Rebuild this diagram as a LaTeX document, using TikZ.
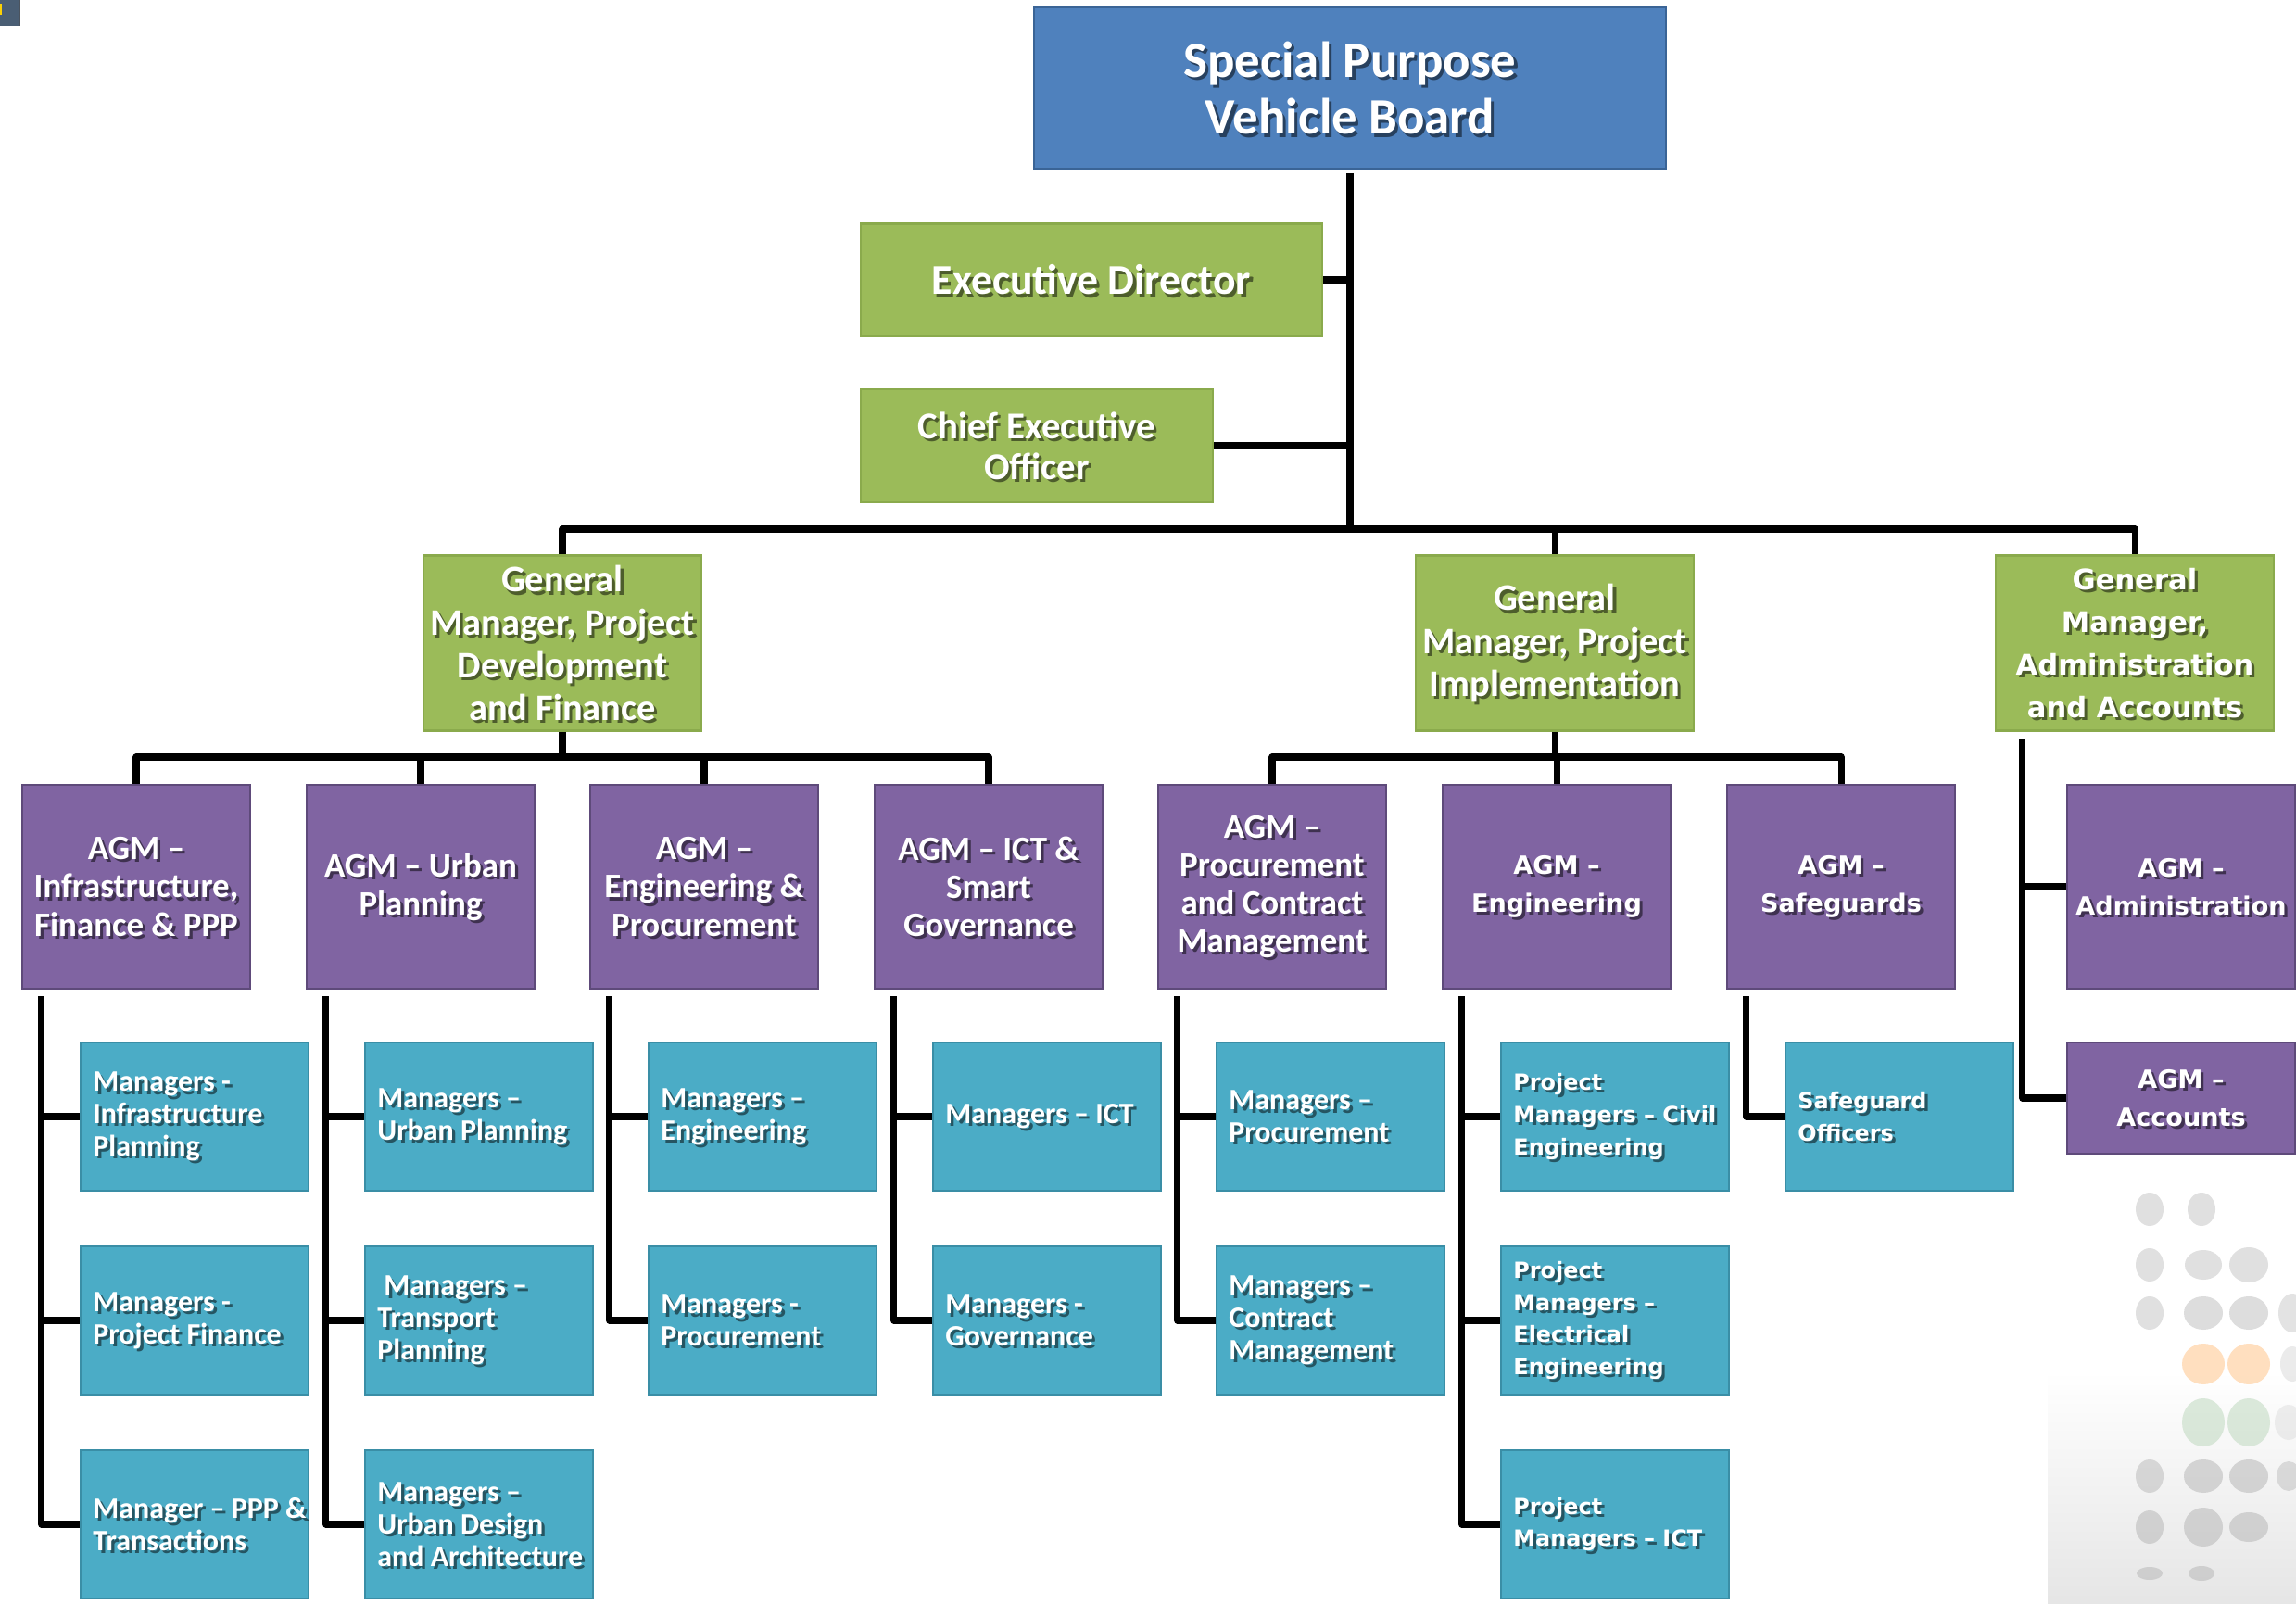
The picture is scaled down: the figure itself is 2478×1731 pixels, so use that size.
\documentclass[tikz,border=0pt]{standalone}
\usepackage{fontspec}
\setmainfont{Carlito}
\newfontfamily\dvs{DejaVu Sans}
\usetikzlibrary{fadings}

\definecolor{boardfill}{HTML}{4F81BD}
\definecolor{boardline}{HTML}{3A6496}
\definecolor{gmfill}{HTML}{9BBB59}
\definecolor{gmline}{HTML}{8AAA4C}
\definecolor{agmfill}{HTML}{8064A2}
\definecolor{agmline}{HTML}{5E4A7A}
\definecolor{mgrfill}{HTML}{4BACC6}
\definecolor{mgrline}{HTML}{3A8EA6}
\definecolor{cornerblue}{HTML}{4A5E74}

% font sizes
\newcommand\fTop{\fontsize{15.6}{17.6}\selectfont\bfseries}
\newcommand\fED{\fontsize{13}{15}\selectfont\bfseries}
\newcommand\fCEO{\fontsize{11.6}{12.6}\selectfont\bfseries}
\newcommand\fGM{\fontsize{11.5}{13.1}\selectfont\bfseries}
\newcommand\fGMd{\dvs\bfseries\fontsize{8.7}{13.1}\selectfont}
\newcommand\fAGM{\fontsize{10.5}{11.7}\selectfont\bfseries}
\newcommand\fAGMd{\dvs\bfseries\fontsize{7.7}{11.7}\selectfont}
\newcommand\fMGR{\fontsize{9.1}{9.9}\selectfont\bfseries}
\newcommand\fMGRd{\dvs\bfseries\fontsize{6.8}{9.9}\selectfont}

\tikzset{
  box/.style={rectangle, inner sep=0pt, line width=0.7pt},
  board/.style={box, fill=boardfill, draw=boardline, minimum width=6.82cm, minimum height=1.74cm},
  gm/.style={box, fill=gmfill, draw=gmline, minimum width=3.0cm, minimum height=1.89cm},
  agm/.style={box, fill=agmfill, draw=agmline, minimum width=2.46cm, minimum height=2.2cm},
  mgr/.style={box, fill=mgrfill, draw=mgrline, minimum width=2.46cm, minimum height=1.6cm},
  txtc/.style={inner sep=0pt, align=center, text=white},
  txtl/.style={inner sep=0pt, align=left, text=white, anchor=west},
  shadowtxt/.style={text=black, text opacity=0.5, xshift=0.9pt, yshift=-0.9pt},
  conn/.style={line width=2pt, draw=black, line join=round},
}

% centred box: style, name, centre, font, text
\newcommand\cbox[5]{%
  \node[#1] (#2) at (#3) {};
  \node[txtc, font={#4}, shadowtxt] (#2-s) at (#2.center) {#5};
  \node[txtc, font={#4}] (#2-t) at (#2.center) {#5};
}
% left-aligned box: style, name, centre, font, text
\newcommand\lbox[5]{%
  \node[#1] (#2) at (#3) {};
  \node[txtl, font={#4}, shadowtxt] (#2-s) at ([xshift=0.14cm]#2.west) {#5};
  \node[txtl, font={#4}] (#2-t) at ([xshift=0.14cm]#2.west) {#5};
}

\begin{document}
\begin{tikzpicture}[x=0.01cm, y=-0.01cm]
\useasboundingbox (0,0) rectangle (2478,1731);
\fill[white] (0,0) rectangle (2478,1731);

% corner tab
\fill[cornerblue] (0,0) rectangle (22,28);
\fill[black!70, opacity=.5] (20,0) rectangle (22,28);
\fill[yellow!70!orange] (0,4) rectangle (2,16);

% faded logo in the lower right
\shade[top color=white, bottom color=black!10] (2210,1480) rectangle (2478,1731);
\begin{scope}[path fading=circle with fuzzy edge 20 percent, opacity=.55]
  \foreach \x/\y/\rx/\ry/\c in {
    2320/1305/15/18/black!22, 2376/1305/15/18/black!22,
    2320/1365/15/18/black!22, 2378/1365/20/16/black!22, 2427/1365/21/19/black!22,
    2320/1417/15/18/black!22, 2378/1417/21/18/black!24, 2427/1417/21/18/black!24, 2474/1417/15/21/black!20,
    2378/1472/23/22/orange!45, 2427/1472/23/22/orange!45, 2474/1472/13/19/black!14,
    2378/1535/23/26/green!40!black!25, 2427/1535/23/26/green!40!black!25, 2470/1535/15/19/black!12,
    2320/1593/15/18/black!26, 2378/1593/21/18/black!28, 2427/1593/21/18/black!28, 2470/1593/13/16/black!24,
    2320/1648/15/18/black!28, 2378/1648/21/21/black!28, 2427/1648/21/16/black!28,
    2320/1698/14/7/black!28, 2376/1698/14/8/black!28}
    \fill[\c] (\x,\y) ellipse [x radius=\rx, y radius=\ry];
\end{scope}

% ---------- boxes ----------
\cbox{board}{top}{1457,95}{\fTop}{Special Purpose\\Vehicle Board}
\cbox{gm, minimum width=4.98cm, minimum height=1.21cm}{ed}{1178,302}{\fED}{Executive Director}
\cbox{gm, minimum width=3.8cm, minimum height=1.22cm}{ceo}{1119,481}{\fCEO}{Chief Executive\\Officer}

\cbox{gm}{gm1}{607,694}{\fGM}{General\\Manager, Project\\Development\\and Finance}
\cbox{gm}{gm2}{1678,694}{\fGM}{General\\Manager, Project\\Implementation}
\cbox{gm}{gm3}{2304,694}{\fGMd}{General\\Manager,\\Administration\\and Accounts}

\cbox{agm}{a1}{147,957}{\fAGM}{AGM –\\Infrastructure,\\Finance \& PPP}
\cbox{agm}{a2}{454,957}{\fAGM}{AGM – Urban\\Planning}
\cbox{agm}{a3}{760,957}{\fAGM}{AGM –\\Engineering \&\\Procurement}
\cbox{agm}{a4}{1067,957}{\fAGM}{AGM – ICT \&\\Smart\\Governance}
\cbox{agm}{a5}{1373,957}{\fAGM}{AGM –\\Procurement\\and Contract\\Management}
\cbox{agm}{a6}{1680,957}{\fAGMd}{AGM –\\Engineering}
\cbox{agm}{a7}{1987,957}{\fAGMd}{AGM –\\Safeguards}
\cbox{agm}{a8}{2354,957}{\fAGMd}{AGM –\\Administration}
\cbox{agm, minimum height=1.2cm}{acc}{2354,1185}{\fAGMd}{AGM –\\Accounts}

\lbox{mgr}{t11}{210,1205}{\fMGR}{Managers -\\Infrastructure\\Planning}
\lbox{mgr}{t12}{210,1425}{\fMGR}{Managers -\\Project Finance}
\lbox{mgr}{t13}{210,1645}{\fMGR}{Manager – PPP \&\\Transactions}
\lbox{mgr}{t21}{517,1205}{\fMGR}{Managers –\\Urban Planning}
\lbox{mgr}{t22}{517,1425}{\fMGR}{\hspace*{.22em}Managers –\\Transport\\Planning}
\lbox{mgr}{t23}{517,1645}{\fMGR}{Managers –\\Urban Design\\and Architecture}
\lbox{mgr}{t31}{823,1205}{\fMGR}{Managers –\\Engineering}
\lbox{mgr}{t32}{823,1425}{\fMGR}{Managers -\\Procurement}
\lbox{mgr}{t41}{1130,1205}{\fMGR}{Managers – ICT}
\lbox{mgr}{t42}{1130,1425}{\fMGR}{Managers -\\Governance}
\lbox{mgr}{t51}{1436,1205}{\fMGR}{Managers –\\Procurement}
\lbox{mgr}{t52}{1436,1425}{\fMGR}{Managers –\\Contract\\Management}
\lbox{mgr}{t61}{1743,1205}{\fMGRd}{Project\\Managers – Civil\\Engineering}
\lbox{mgr}{t62}{1743,1425}{\fMGRd}{Project\\Managers –\\Electrical\\Engineering}
\lbox{mgr}{t63}{1743,1645}{\fMGRd}{Project\\Managers – ICT}
\lbox{mgr}{t71}{2050,1205}{\fMGRd}{Safeguard\\Officers}

% ---------- connectors ----------
\coordinate (bus0) at (0,571);
\coordinate (bus1) at (0,817);

\draw[conn] ([yshift=-1pt]top.south) -- (top.south |- bus0);
\draw[conn] (ed.east) -- (ed.east -| top.south);
\draw[conn] (ceo.east) -- (ceo.east -| top.south);
\draw[conn] (gm1.north) -- (gm1.north |- bus0) -- (gm3.north |- bus0) -- (gm3.north);
\draw[conn] (gm2.north) -- (gm2.north |- bus0);

\draw[conn] (gm1.south) -- (gm1.south |- bus1);
\draw[conn] (a1.north) -- (a1.north |- bus1) -- (a4.north |- bus1) -- (a4.north);
\draw[conn] (a2.north) -- (a2.north |- bus1);
\draw[conn] (a3.north) -- (a3.north |- bus1);

\draw[conn] (gm2.south) -- (gm2.south |- bus1);
\draw[conn] (a5.north) -- (a5.north |- bus1) -- (a7.north |- bus1) -- (a7.north);
\draw[conn] (a6.north) -- (a6.north |- bus1);

\coordinate (adm) at ([xshift=-1.21cm,yshift=-2pt]gm3.south);
\draw[conn] (adm) |- (acc.west);
\draw[conn] (adm |- a8.west) -- (a8.west);

% AGM to managers
\foreach \a/\last/\list in {a1/t13/{t11,t12}, a2/t23/{t21,t22}, a3/t32/{t31}, a4/t42/{t41},
                            a5/t52/{t51}, a6/t63/{t61,t62}, a7/t71/{}} {
  \coordinate (\a-v) at ([xshift=0.22cm,yshift=-2pt]\a.south west);
  \draw[conn] (\a-v) |- (\last.west);
  \foreach \t in \list {
    \draw[conn] (\a-v |- \t.west) -- (\t.west);
  }
}
\end{tikzpicture}
\end{document}
